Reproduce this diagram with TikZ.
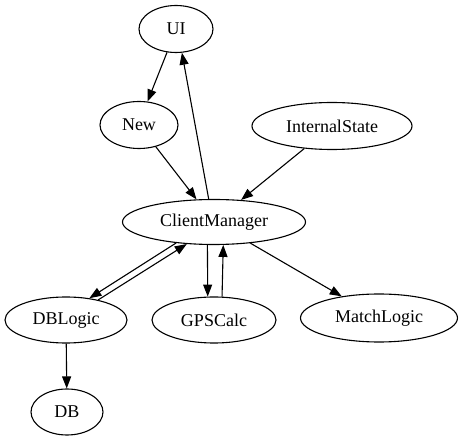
\documentclass[tikz,border=0pt]{standalone}
\usepackage{fontspec}
\setmainfont{Liberation Serif}
\usetikzlibrary{shapes.geometric,arrows.meta}
\begin{document}
\begin{tikzpicture}[x=1pt,y=-1pt,
  gnode/.style={draw,ellipse,line width=1.1pt,inner sep=0pt,font=\fontsize{18}{20}\selectfont},
  arr/.style={line width=1.1pt,-{Triangle[length=12pt,width=9pt]}}]
\useasboundingbox (0,0) rectangle (461,443);
\node[gnode,minimum width=74pt,minimum height=47pt] (ui) at (176,29) {UI};
\node[gnode,minimum width=78pt,minimum height=47pt] (new) at (139,125) {New};
\node[gnode,minimum width=160pt,minimum height=47pt] (is) at (332,126) {InternalState};
\node[gnode,minimum width=183pt,minimum height=45pt] (cm) at (214,222) {ClientManager};
\node[gnode,minimum width=122pt,minimum height=46pt] (dbl) at (66,320) {DBLogic};
\node[gnode,minimum width=124pt,minimum height=46pt] (gps) at (214,320) {GPSCalc};
\node[gnode,minimum width=157pt,minimum height=48pt] (ml) at (379,318) {MatchLogic};
\node[gnode,minimum width=72pt,minimum height=46pt] (db) at (67,412) {DB};
\draw[arr] (ui.249) -- (new.70);
\draw[arr] (new) -- (cm);
\draw[arr] (is) -- (cm);
\draw[arr] (cm.103) -- (ui.284);
\draw[arr] (cm.209) -- (dbl.43);
\draw[arr] (dbl.32) -- (cm.219);
\draw[arr] (cm.254) -- (gps.105);
\draw[arr] (gps.71) -- (cm.292);
\draw[arr] (cm) -- (ml);
\draw[arr] (dbl) -- (db);
\end{tikzpicture}
\end{document}
